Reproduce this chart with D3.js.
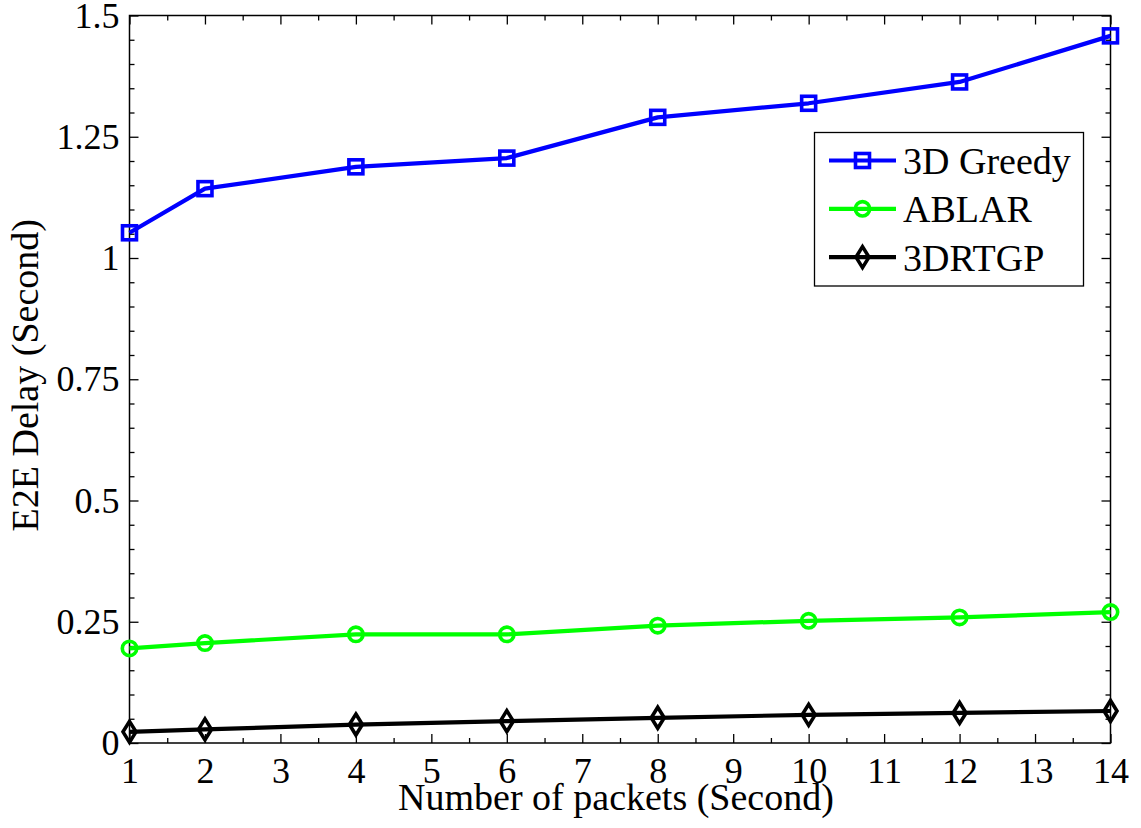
<!DOCTYPE html>
<html>
<head>
<meta charset="utf-8">
<script src="https://cdn.jsdelivr.net/npm/d3@7"></script>
<style>
  html, body { margin: 0; padding: 0; background: #fff; }
  svg { display: block; font-family: "Liberation Serif", "Times New Roman", serif; }
  .tick line { stroke: #000; stroke-width: 1.3; }
</style>
</head>
<body>
<svg id="chart" width="1141" height="828"></svg>
<script>
// Packet counts on the x axis
const packets = [1, 2, 4, 6, 8, 10, 12, 14];
// End-to-end delay (seconds) for each routing scheme
const greedy3d = [1.052, 1.143, 1.188, 1.206, 1.290, 1.319, 1.363, 1.458];
const ablar    = [0.195, 0.206, 0.224, 0.224, 0.242, 0.252, 0.259, 0.270];
const rtgp3d   = [0.023, 0.028, 0.038, 0.045, 0.052, 0.058, 0.062, 0.066];
const seriesNames = ["3D Greedy", "ABLAR", "3DRTGP"];
const xTicks = d3.range(1, 15);
const yTicks = [0, 0.25, 0.5, 0.75, 1, 1.25, 1.5];
const yTickLabels = ["0", "0.25", "0.5", "0.75", "1", "1.25", "1.5"];

const serif = "'Liberation Serif', 'Times New Roman', serif";
const margin = { left: 129.5, top: 15.5, right: 1141 - 1110.5, bottom: 828 - 743 };
const W = 1141, H = 828;
const svg = d3.select("#chart");
const iw = W - margin.left - margin.right;
const ih = H - margin.top - margin.bottom;

const x = d3.scaleLinear().domain([1, 14]).range([0, iw]);
const y = d3.scaleLinear().domain([0, 1.5]).range([ih, 0]);

const g = svg.append("g").attr("transform", `translate(${margin.left},${margin.top})`);

// Minor ticks (inward)
const xMinor = d3.range(1.5, 14, 1);
const yMinor = d3.range(0, 1.5001, 0.05).filter(v => Math.abs(v / 0.25 - Math.round(v / 0.25)) > 1e-6);
function noText(sel) { sel.select(".domain").remove(); sel.selectAll("text").remove(); }
function serifText(sel) {
  sel.select(".domain").remove();
  sel.selectAll("text").style("font-family", serif).style("font-size", "36px").attr("fill", "#000");
}
g.append("g").attr("transform", `translate(0,${ih})`)
  .call(d3.axisBottom(x).tickValues(xMinor).tickSize(-5)).call(noText);
g.append("g").call(d3.axisTop(x).tickValues(xMinor).tickSize(-5)).call(noText);
g.append("g").call(d3.axisLeft(y).tickValues(yMinor).tickSize(-5)).call(noText);
g.append("g").attr("transform", `translate(${iw},0)`)
  .call(d3.axisRight(y).tickValues(yMinor).tickSize(-5)).call(noText);

// Major ticks with labels
g.append("g").attr("transform", `translate(0,${ih})`)
  .call(d3.axisBottom(x).tickValues(xTicks).tickSize(-9).tickPadding(14).tickFormat(d3.format("d")))
  .call(serifText);
g.append("g")
  .call(d3.axisLeft(y).tickValues(yTicks).tickSize(-9).tickPadding(10)
    .tickFormat((d, i) => yTickLabels[i]))
  .call(serifText);
g.append("g").call(d3.axisTop(x).tickValues(xTicks).tickSize(-9)).call(noText);
g.append("g").attr("transform", `translate(${iw},0)`)
  .call(d3.axisRight(y).tickValues(yTicks).tickSize(-9)).call(noText);

// Axes box
g.append("rect").attr("x", 0).attr("y", 0).attr("width", iw).attr("height", ih)
  .attr("fill", "none").attr("stroke", "#000").attr("stroke-width", 1.5);

// Marker shapes
function drawMarker(sel, kind, color) {
  if (kind === "square") {
    sel.append("rect").attr("x", -7).attr("y", -7).attr("width", 14).attr("height", 14)
      .attr("fill", "none").attr("stroke", color).attr("stroke-width", 3.6);
  } else if (kind === "circle") {
    sel.append("circle").attr("r", 7.2)
      .attr("fill", "none").attr("stroke", color).attr("stroke-width", 3.6);
  } else {
    sel.append("path").attr("d", "M0,-10.5L6.5,0L0,10.5L-6.5,0Z")
      .attr("fill", "none").attr("stroke", color).attr("stroke-width", 3.6);
  }
}

const series = [
  { name: seriesNames[0], values: greedy3d, color: "#0000ff", marker: "square" },
  { name: seriesNames[1], values: ablar, color: "#00ff00", marker: "circle" },
  { name: seriesNames[2], values: rtgp3d, color: "#000000", marker: "diamond" }
];

const line = d3.line().x(d => x(d[0])).y(d => y(d[1]));
series.forEach(s => {
  const pts = packets.map((p, i) => [p, s.values[i]]);
  g.append("path").datum(pts).attr("d", line)
    .attr("fill", "none").attr("stroke", s.color).attr("stroke-width", 4.2)
    .attr("stroke-linejoin", "round");
  pts.forEach(p => {
    const m = g.append("g").attr("transform", `translate(${x(p[0])},${y(p[1])})`);
    drawMarker(m, s.marker, s.color);
  });
});

// Legend
const lg = svg.append("g").attr("transform", "translate(814.5,132.5)");
lg.append("rect").attr("width", 269).attr("height", 153.5)
  .attr("fill", "#fff").attr("stroke", "#000").attr("stroke-width", 1.3);
series.forEach((s, i) => {
  const cy = 28 + i * 48.3;
  lg.append("line").attr("x1", 14.5).attr("x2", 81.5).attr("y1", cy).attr("y2", cy)
    .attr("stroke", s.color).attr("stroke-width", 4.2);
  const m = lg.append("g").attr("transform", `translate(48,${cy})`);
  drawMarker(m, s.marker, s.color);
  lg.append("text").attr("x", 88.5).attr("y", cy + 13.5)
    .attr("font-size", 38).attr("fill", "#000").text(s.name);
});

// Axis titles
svg.append("text").attr("x", margin.left + iw / 2 - 4).attr("y", 810)
  .attr("text-anchor", "middle").attr("font-size", 38).attr("fill", "#000")
  .text("Number of packets (Second)");
svg.append("text").attr("transform", `translate(38,${margin.top + ih / 2 - 4}) rotate(-90)`)
  .attr("text-anchor", "middle").attr("font-size", 38).attr("fill", "#000")
  .text("E2E Delay (Second)");
</script>
</body>
</html>
